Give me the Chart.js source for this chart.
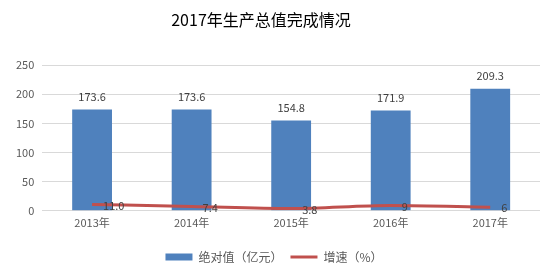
<!DOCTYPE html>
<html><head><meta charset="utf-8">
<script src="https://cdn.jsdelivr.net/npm/chart.js@4/dist/chart.umd.min.js"></script>
<style>html,body{margin:0;padding:0;background:#fff}#wrap{width:558px;height:274px}</style>
</head><body><div id="wrap"><canvas id="c"></canvas></div>
<script>
const categories = ['2013年','2014年','2015年','2016年','2017年'];
const absValues = [173.6, 173.6, 154.8, 171.9, 209.3];
const absLabels = ['173.6','173.6','154.8','171.9','209.3'];
const growthValues = [11.0, 7.4, 3.8, 9, 6];
const growthLabels = ['11.0','7.4','3.8','9','6'];
const yTicks = [0, 50, 100, 150, 200, 250];
const titleText = '2017年生产总值完成情况';
const seriesNames = ['绝对值（亿元）', '增速（%）'];

const FONT = '"Noto Sans CJK SC", "Microsoft YaHei", sans-serif';

const labelPlugin = {
  id: 'labels',
  afterDatasetsDraw(chart) {
    const ctx = chart.ctx;
    ctx.save();
    ctx.font = '11px ' + FONT;
    ctx.fillStyle = '#404040';
    const m0 = chart.getDatasetMeta(0);
    ctx.textAlign = 'center';
    ctx.textBaseline = 'middle';
    m0.data.forEach((el, i) => { ctx.fillText(absLabels[i], el.x, el.y - 13); });
    const m1 = chart.getDatasetMeta(1);
    ctx.textAlign = 'left';
    ctx.textBaseline = 'middle';
    m1.data.forEach((el, i) => { ctx.fillText(growthLabels[i], el.x + 11, el.y + 1); });
    ctx.restore();
  }
};
const titlePlugin = {
  id: 'mytitle',
  afterDraw(chart) {
    const ctx = chart.ctx;
    ctx.save();
    ctx.font = '16px ' + FONT;
    ctx.fillStyle = '#000';
    ctx.textAlign = 'center';
    ctx.textBaseline = 'middle';
    ctx.fillText(titleText, 261, 20);
    ctx.restore();
  }
};

new Chart(document.getElementById('c'), {
  data: {
    labels: categories,
    datasets: [
      { type: 'bar', label: seriesNames[0], data: absValues, backgroundColor: '#4F81BD', borderWidth: 0,
        categoryPercentage: 1, barPercentage: 0.4, order: 2, pointStyle: 'rect' },
      { type: 'line', label: seriesNames[1], data: growthValues, borderColor: '#C0504D', backgroundColor: '#C0504D',
        borderWidth: 3, pointRadius: 0, tension: 0.4, cubicInterpolationMode: 'monotone', order: 1, pointStyle: 'line' }
    ]
  },
  options: {
    responsive: true, maintainAspectRatio: false, animation: false,
    layout: { padding: { top: 65, right: 18, left: 8, bottom: 1 } },
    plugins: {
      title: { display: false },
      tooltip: { enabled: false },
      legend: { position: 'bottom', labels: { usePointStyle: true, pointStyleWidth: 27, boxHeight: 7,
        sort: (a, b) => a.datasetIndex - b.datasetIndex,
        font: { size: 12, family: FONT }, color: '#595959', padding: 8 } }
    },
    scales: {
      x: { grid: { display: false, drawTicks: false }, border: { display: false },
        afterFit: (s) => { s.height += 9; },
        ticks: { color: '#595959', font: { size: 11, family: FONT }, padding: 5 } },
      y: { min: 0, max: 250, afterBuildTicks: (ax) => { ax.ticks = yTicks.map(v => ({ value: v })); },
        grid: { color: '#D9D9D9', drawTicks: false }, border: { display: false },
        ticks: { color: '#595959', font: { size: 11, family: FONT }, padding: 8 } }
    }
  },
  plugins: [labelPlugin, titlePlugin]
});
</script></body></html>
